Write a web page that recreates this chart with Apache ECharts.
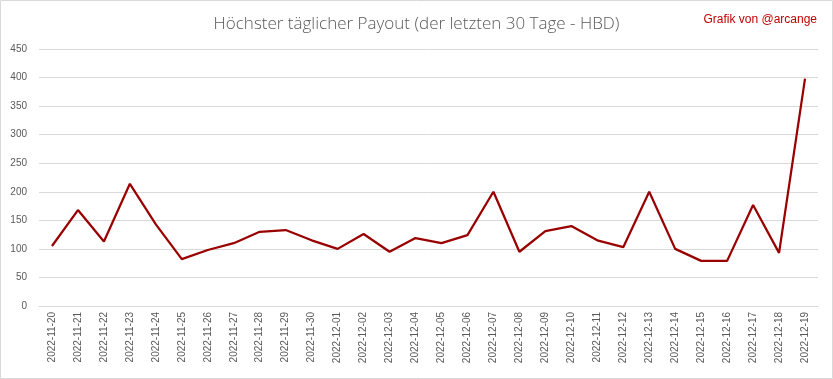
<!DOCTYPE html>
<html><head><meta charset="utf-8">
<script src="https://cdn.jsdelivr.net/npm/echarts@6/dist/echarts.min.js"></script>
<style>html,body{margin:0;padding:0;background:#fff}#c{width:833px;height:379px}</style>
</head><body><div id="c"></div>
<script>
const categories = ["2022-11-20","2022-11-21","2022-11-22","2022-11-23","2022-11-24","2022-11-25","2022-11-26","2022-11-27","2022-11-28","2022-11-29","2022-11-30","2022-12-01","2022-12-02","2022-12-03","2022-12-04","2022-12-05","2022-12-06","2022-12-07","2022-12-08","2022-12-09","2022-12-10","2022-12-11","2022-12-12","2022-12-13","2022-12-14","2022-12-15","2022-12-16","2022-12-17","2022-12-18","2022-12-19"];
const payout = [105,168,113,214,143,82,98,110,130,133,115,100,126,95,119,110,124,200,95,131,140,115,103,200,100,79,79,177,93,398];
const titleText = "Höchster täglicher Payout (der letzten 30 Tage - HBD)";
const creditText = "Grafik von @arcange";

const chart = echarts.init(document.getElementById('c'), null, {renderer:'canvas'});
chart.setOption({
  animation:false,
  backgroundColor:'#fff',
  title:[{text:titleText,left:'center',top:11,textStyle:{fontFamily:'Open Sans',fontWeight:300,fontSize:17,color:'#595959'}},
         {text:creditText,right:11,top:9,textStyle:{fontFamily:'Liberation Sans',fontWeight:'normal',fontSize:12,color:'#c00000'}}],
  graphic:[{type:'rect',shape:{x:0.5,y:0.5,width:832,height:378},style:{fill:'none',stroke:'#d9d9d9',lineWidth:1},silent:true}],
  grid:{left:39,right:15,top:49,bottom:73,containLabel:false},
  xAxis:{type:'category',data:categories,boundaryGap:true,
    axisLine:{show:true,lineStyle:{color:'#d9d9d9'}},axisTick:{show:false},
    axisLabel:{rotate:90,fontFamily:'Liberation Sans',fontSize:10,color:'#595959',margin:6,interval:0}},
  yAxis:{type:'value',min:0,max:450,interval:50,
    axisLine:{show:false},axisTick:{show:false},
    splitLine:{lineStyle:{color:'#d9d9d9',width:1}},
    axisLabel:{fontFamily:'Liberation Sans',fontSize:10,color:'#595959',margin:12}},
  series:[{type:'line',data:payout,symbol:'none',lineStyle:{color:'#990000',width:2.25},itemStyle:{color:'#990000'}}]
});
</script></body></html>
